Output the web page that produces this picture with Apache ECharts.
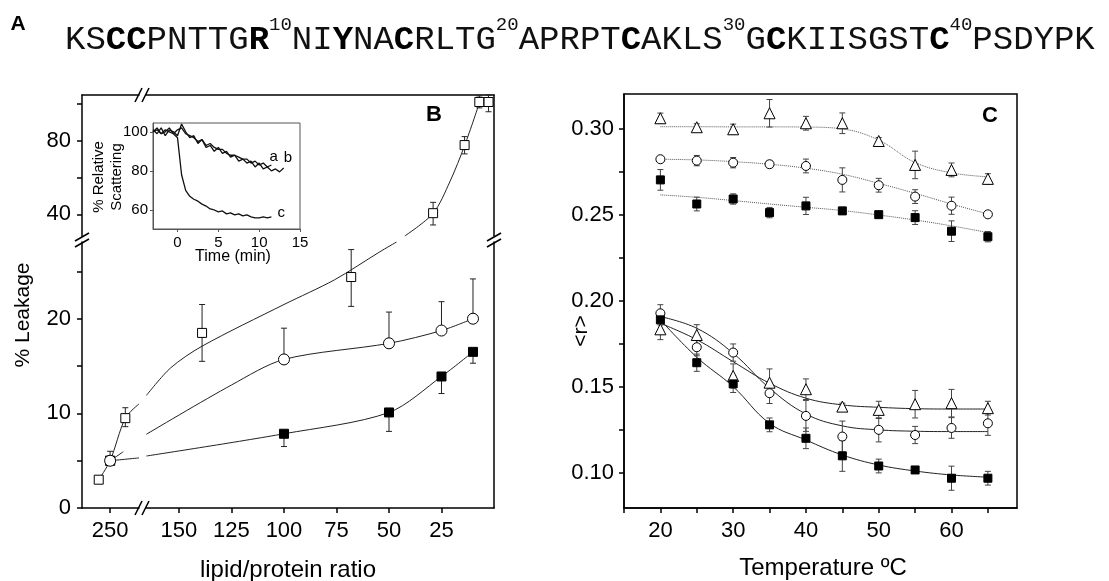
<!DOCTYPE html>
<html>
<head>
<meta charset="utf-8">
<script src="https://cdn.jsdelivr.net/npm/echarts@6.0.0/dist/echarts.min.js"></script>
<style>html,body{margin:0;padding:0;background:#fff}#main{width:1109px;height:581px}</style>
</head>
<body>
<div id="main"></div>
<script>
const FONT='Liberation Sans, Arial, sans-serif';

// ---- panel B: % leakage vs lipid/protein ratio ----
const sqOpenRatio=[265,250,230,139,68,29,14,7,2.6];
const sqOpenLeak=[3,5,9.5,18.5,24.4,40.6,77.6,101,101];
const sqOpenLo=[3,4.9,8.6,15.5,21.3,34.2,72.8,97.8,95.7];
const sqOpenHi=[3,6.0,10.6,21.5,27.3,46.5,82.2,104.3,104.8];
const circRatio=[250,100,50,25,10];
const circLeak=[5,15.7,17.4,18.75,20];
const circHi=[5,19.0,20.7,21.8,24.2];
const sqFillRatio=[250,100,50,25,10];
const sqFillLeak=[5,7.85,10.1,13.9,16.5];
const sqFillLo=[5,6.5,8.1,12.1,15.3];
// fitted curves, one piece per axis segment
const sqOpenFit=[
  {x:[265,250,230,212],y:[3,5,9.5,11]},
  {x:[165.5,154,139,100,76,54.4,46.4],y:[11.9,14.8,17.1,21.5,24.1,27.06,28.1]},
  {x:[42.5,29,21,13.9,6.8],y:[28.2,40.5,57.7,77.6,101]}
];
const circFit=[
  {x:[250,232.7],y:[5,5.95]},
  {x:[165.5,125,100,50,25,10],y:[7.8,13.0,15.7,17.4,18.75,20]}
];
const sqFillFit=[
  {x:[250,212],y:[5,5.3]},
  {x:[165.5,100,50,25,10],y:[5.5,7.85,10.1,13.9,16.5]}
];
const bXTicksLeft=[250];
const bXTicksRight=[150,125,100,75,50,25];
const bYLabelsUp=[40,80], bYTicksUp=[40,60,80,100];
const bYLabelsLow=[0,10,20], bYTicksLow=[0,5,10,15,20,25];

// ---- inset: % relative scattering vs time ----
const inTime=[-3,-2.5,-2,-1.5,-1,-0.5,0,0.5,1,1.5,2,2.5,3,3.5,4,4.5,5,5.5,6,6.5,7,7.5,8,8.5,9,9.5,10,10.5,11,11.5,12,12.5,13];
const traceA=[100,102,99,101,100,99,101,102,99,98,97,95,96,93,94,92,91,91,89,88,88,87,86,86,84,85,83,84,82,83];
const traceB=[101,99,102,98,101,100,98,104,100,97,98,94,96,92,93,90,92,89,90,87,88,85,86,84,85,82,84,81,82,80,81,79.5,81.5];
const traceC=[100,101,99,100,102,99,97,78,70,67,65.5,64.5,63,62,60.5,60,59,59.5,58,58.5,57.5,58,57,57.5,56.5,56,56,56.5,56,56.5];

// ---- panel C: anisotropy vs temperature ----
const tempC=[20,25,30,35,40,45,50,55,60,65];
const triUp=[0.3062,0.3010,0.2998,0.3091,0.3033,0.3033,0.2930,0.2791,0.2762,0.2710];
const triUpErr=[0.003,0.002,0.003,0.008,0.004,0.006,0.002,0.008,0.004,0.003];
const circUp=[0.2824,0.2816,0.2804,0.2795,0.2785,0.2704,0.2673,0.2607,0.2554,0.2504];
const circUpErr=[0.001,0.003,0.003,0.002,0.004,0.007,0.004,0.004,0.005,0.001];
const sqUp=[0.2704,0.2564,0.2593,0.2514,0.2553,0.2524,0.2502,0.2485,0.2406,0.2374];
const sqUpErr=[0.006,0.004,0.003,0.003,0.005,0.002,0.001,0.004,0.006,0.003];
const triLo=[0.1836,0.1803,0.1565,0.1526,0.1488,0.1387,0.1368,0.1401,0.1407,0.1378];
const triLoErr=[0.006,0.006,0.007,0.008,0.006,0.002,0.005,0.008,0.008,0.004];
const circLo=[0.1929,0.1732,0.1701,0.1465,0.1333,0.1213,0.1252,0.1222,0.1263,0.1290];
const circLoErr=[0.005,0.005,0.005,0.006,0.009,0.009,0.007,0.005,0.006,0.007];
const sqLo=[0.1891,0.1642,0.1519,0.1281,0.1203,0.1101,0.1042,0.1019,0.0971,0.0971];
const sqLoErr=[0.003,0.005,0.005,0.004,0.006,0.009,0.004,0.002,0.007,0.004];
const triUpFit=[0.3013,0.3013,0.3012,0.3012,0.3011,0.3000,0.2935,0.2805,0.2745,0.2722];
const circUpFit=[0.2824,0.2820,0.2810,0.2795,0.2772,0.2737,0.2684,0.2626,0.2564,0.2506];
const sqUpFit=[0.2617,0.2603,0.2584,0.2564,0.2545,0.2526,0.2500,0.2471,0.2437,0.2398];
const triLoFit=[0.1871,0.1776,0.1648,0.1523,0.1436,0.1397,0.1383,0.1375,0.1373,0.1373];
const circLoFit=[0.1910,0.1842,0.1697,0.1494,0.1344,0.1275,0.1252,0.1244,0.1242,0.1242];
const sqLoFit=[0.1891,0.1674,0.1503,0.1290,0.1193,0.1106,0.1048,0.1013,0.0990,0.0977];
const cXLabels=[20,30,40,50,60], cXTicks=[15,20,25,30,35,40,45,50,55,60,65];
const cYLabels=[0.10,0.15,0.20,0.25,0.30], cYTicks=[0.10,0.125,0.15,0.175,0.20,0.225,0.25,0.275,0.30];

const seqText='KS{b|CC}PNTTG{b|R}{s|10}NI{b|Y}NA{b|C}RLTG{s|20}APRPT{b|C}AKLS{s|30}G{b|C}KIISGST{b|C}{s|40}PSDYPK';

// which of the four B sub-grids a point belongs to (0 UL,1 UR,2 LL,3 LR)
function bGrid(r,l){return (l>28.15?0:2)+(r>180?0:1);}
function zip(a,b){return a.map((v,i)=>[v,b[i]]);}

function axis(gi,pos,min,max,labels,ticks,ext){
  const a={type:'value',gridIndex:gi,position:pos,min:min,max:max,
    axisLine:{show:true,onZero:false,lineStyle:{color:'#000',width:1.5}},
    axisTick:{show:!!ticks,length:5,lineStyle:{color:'#000',width:1.5}},
    axisLabel:{show:!!labels,color:'#000',fontSize:22,fontFamily:FONT,margin:11},
    splitLine:{show:false}};
  if(ticks)a.axisTick.customValues=ticks;
  if(labels)a.axisLabel.customValues=labels;
  if(ext){for(const k in ext){a[k]=Object.assign({},a[k]||{},ext[k]);}}
  return a;
}

function errSeries(gi,data,cap,color,z){
  return {type:'custom',xAxisIndex:gi,yAxisIndex:gi,z:z||4,silent:true,
    encode:{x:0,y:[1,2]},
    renderItem:function(p,api){
      const x=api.value(0);
      const a=api.coord([x,api.value(1)]),b=api.coord([x,api.value(2)]);
      const st={stroke:color,lineWidth:1};
      return {type:'group',children:[
        {type:'line',shape:{x1:a[0],y1:a[1],x2:b[0],y2:b[1]},style:st},
        {type:'line',shape:{x1:a[0]-cap,y1:a[1],x2:a[0]+cap,y2:a[1]},style:st},
        {type:'line',shape:{x1:b[0]-cap,y1:b[1],x2:b[0]+cap,y2:b[1]},style:st}]};
    },data:data};
}
function scatter(gi,data,symbol,size,fill,z){
  return {type:'scatter',xAxisIndex:gi,yAxisIndex:gi,z:z||6,silent:true,symbol:symbol,symbolSize:size,
    itemStyle:{color:fill,borderColor:'#000',borderWidth:1,opacity:1},data:data};
}
function line(gi,data,type,color,smooth){
  return {type:'line',xAxisIndex:gi,yAxisIndex:gi,z:3,silent:true,smooth:smooth===undefined?true:smooth,
    symbol:'none',lineStyle:{color:color,width:1,type:type||'solid'},data:data};
}

const series=[];
// B markers + error bars, routed into sub-grids; later sets sit on top
function addB(xs,ys,lo,hi,symbol,size,fill,z){
  const pts={},err={};
  xs.forEach((x,i)=>{
    const g=bGrid(x,ys[i]);
    (pts[g]=pts[g]||[]).push([x,ys[i]]);
    (err[g]=err[g]||[]).push([x,lo[i],hi[i]]);
  });
  for(const g in pts){
    series.push(errSeries(+g,err[g],3,'#222',z-1));
    series.push(scatter(+g,pts[g],symbol,size,fill,z));
  }
}
addB(sqFillRatio,sqFillLeak,sqFillLo,sqFillLeak,'rect',9,'#000',6);
addB(sqOpenRatio,sqOpenLeak,sqOpenLo,sqOpenHi,'rect',9,'#fff',8);
addB(circRatio,circLeak,circLeak,circHi,'circle',11,'#fff',10);
[sqOpenFit,circFit,sqFillFit].forEach(f=>f.forEach(p=>{
  series.push(line(bGrid(p.x[0],p.y[0]),zip(p.x,p.y),'solid','#222',0.3));
}));

// inset traces
[[traceA,'a',[-10,-8]],[traceB,'b',[-8,-10]],[traceC,'c',[-2,-4]]].forEach(t=>{
  series.push({type:'line',xAxisIndex:4,yAxisIndex:4,z:3,silent:true,symbol:'none',
    lineStyle:{color:'#111',width:1.3},data:zip(inTime.slice(0,t[0].length),t[0]),
    endLabel:{show:true,formatter:t[1],color:'#000',fontSize:15,fontFamily:FONT,offset:t[2]}});
});

// C
const cSets=[
  [triUp,triUpErr,triUpFit,'triangle',11,'#fff','dotted'],
  [circUp,circUpErr,circUpFit,'circle',9,'#fff','dotted'],
  [sqUp,sqUpErr,sqUpFit,'rect',8,'#000','dotted'],
  [triLo,triLoErr,triLoFit,'triangle',11,'#fff','solid'],
  [circLo,circLoErr,circLoFit,'circle',9,'#fff','solid'],
  [sqLo,sqLoErr,sqLoFit,'rect',8,'#000','solid']
];
cSets.forEach(s=>{
  series.push(line(5,zip(tempC,s[2]),s[6],s[6]==='dotted'?'#555':'#222',0.4));
  series.push(errSeries(5,tempC.map((t,i)=>[t,s[0][i]-s[1][i],s[0][i]+s[1][i]]),3,'#444'));
  series.push(scatter(5,zip(tempC,s[0]),s[3],s[4],s[5]));
});

function txt(x,y,s,size,o){
  o=o||{};
  return {type:'text',x:x,y:y,rotation:o.rot||0,silent:true,z:10,style:{text:s,x:0,y:0,
    fontFamily:o.family||FONT,fontSize:size,fontWeight:o.bold?'bold':'normal',fill:'#000',
    align:o.align||'center',verticalAlign:'middle',textAlign:o.align||'center',textVerticalAlign:'middle',
    lineHeight:o.lh||size*1.2}};
}
function seg(x1,y1,x2,y2){
  return {type:'line',silent:true,z:10,shape:{x1:x1,y1:y1,x2:x2,y2:y2},style:{stroke:'#000',lineWidth:1.5}};
}
const MONO='Liberation Mono, Courier New, monospace';
const graphic=[
  txt(18,24,'A',21,{bold:true}),
  {type:'text',x:65,y:15,silent:true,style:{text:seqText,x:0,y:0,fontFamily:MONO,fontSize:34,lineHeight:50,
    fill:'#111',align:'left',verticalAlign:'top',
    rich:{b:{fontFamily:MONO,fontSize:34,lineHeight:50,fontWeight:'bold',fill:'#000'},
          s:{fontFamily:MONO,fontSize:19,lineHeight:19,height:19,verticalAlign:'top',fill:'#111'}}}},
  txt(434,115,'B',22,{bold:true}),
  txt(990,116,'C',22,{bold:true}),
  txt(23,315,'% Leakage',21,{rot:Math.PI/2}),
  txt(288,570,'lipid/protein ratio',24),
  txt(581,331,'<r>',21,{rot:Math.PI/2}),
  txt(823,568,'Temperature ºC',24),
  txt(108,177,'% Relative\nScattering',15,{rot:Math.PI/2,lh:18}),
  txt(233,257,'Time (min)',16),
  // axis break marks
  seg(75,241,89,233),seg(75,247,89,239),
  seg(487,241,501,233),seg(487,247,501,239),
  seg(135,515,142,501),seg(142,515,149,501),
  seg(135,102,142,88),seg(142,102,149,88)
];

const noBounds={outerBoundsMode:'none',containLabel:false};
const option={
  animation:false,
  backgroundColor:'#fff',
  textStyle:{fontFamily:FONT},
  grid:[
    Object.assign({left:82,top:95,width:57,height:141},noBounds),
    Object.assign({left:146,top:95,width:348,height:141},noBounds),
    Object.assign({left:82,top:242,width:57,height:266.1},noBounds),
    Object.assign({left:146,top:242,width:348,height:266.1},noBounds),
    Object.assign({left:153,top:123,width:147,height:106,show:true,borderColor:'#555',borderWidth:1},noBounds),
    Object.assign({left:624,top:94,width:393,height:414,show:true,borderColor:'#000',borderWidth:1.5},noBounds)
  ],
  xAxis:[
    axis(0,'top',212,287,null,null,{inverse:true}),
    axis(1,'top',0,165.7,null,null,{inverse:true}),
    axis(2,'bottom',212,287,bXTicksLeft,bXTicksLeft,{inverse:true,axisLabel:{margin:12}}),
    axis(3,'bottom',0,165.7,bXTicksRight,bXTicksRight,{inverse:true,axisLabel:{margin:12}}),
    axis(4,'bottom',-3,15,[0,5,10,15],[0,5,10,15],{axisLine:{lineStyle:{color:'#555',width:1}},
      axisTick:{length:3,lineStyle:{color:'#555',width:1}},axisLabel:{fontSize:15,margin:6}}),
    axis(5,'bottom',15,69,cXLabels,cXTicks,{axisLabel:{margin:12}})
  ],
  yAxis:[
    axis(0,'left',28.2,104.8,bYLabelsUp,bYTicksUp),
    axis(1,'right',28.2,104.8,null,null),
    axis(2,'left',0,28.1,bYLabelsLow,bYTicksLow),
    axis(3,'right',0,28.1,null,null),
    axis(4,'left',50.26,104.5,[60,80,100],[60,80,100],{axisLine:{lineStyle:{color:'#555',width:1}},
      axisTick:{length:3,lineStyle:{color:'#555',width:1}},axisLabel:{fontSize:15,margin:5}}),
    axis(5,'left',0.0798,0.3203,cYLabels,cYTicks,{axisLabel:{margin:10,formatter:v=>v.toFixed(2)}})
  ],
  series:series,
  graphic:graphic
};
const chart=echarts.init(document.getElementById('main'),null,{renderer:'canvas'});
chart.setOption(option);
</script>
</body>
</html>
